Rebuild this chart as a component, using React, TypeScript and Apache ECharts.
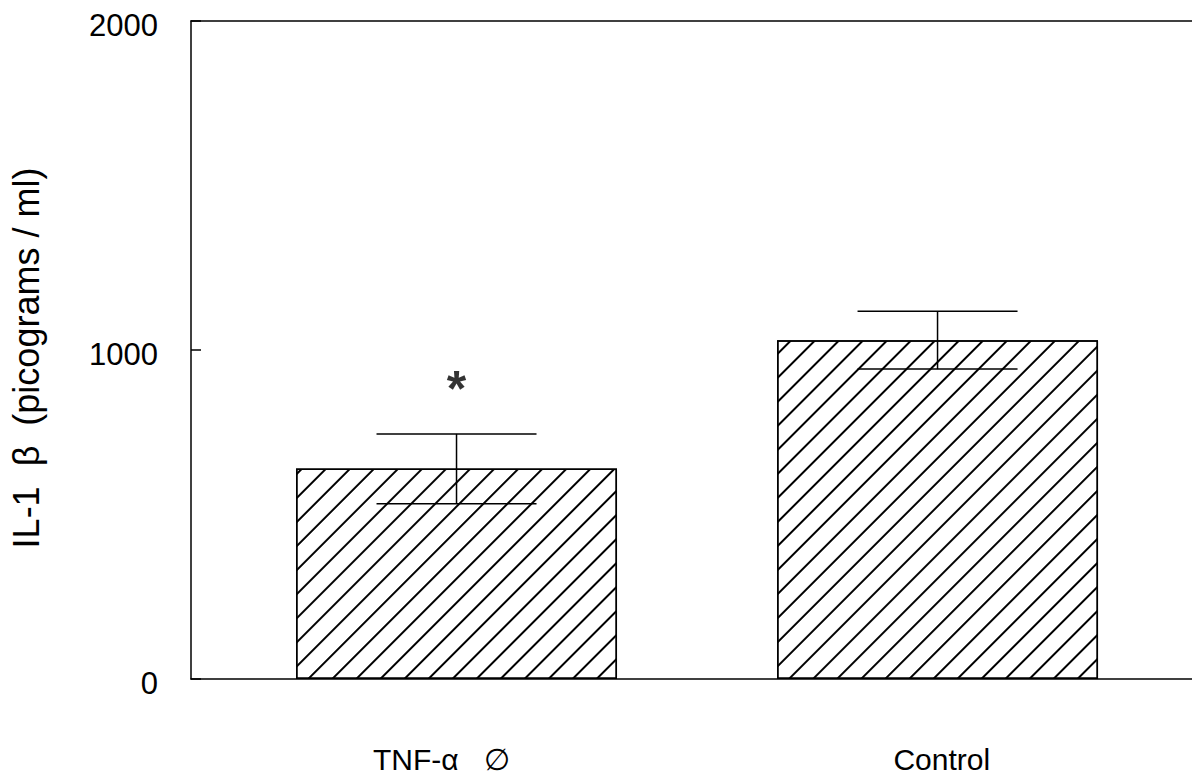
import React, { useEffect, useRef } from 'react';
import * as echarts from 'echarts';

const categories = ['TNF-α   ∅', 'Control'];
const barPositions = [1, 2];
const means = [640, 1030];
const errLow = [533, 942];
const errHigh = [745, 1118];
const yTickValues = [0, 1000, 2000];
const sigX = [1];
const sigY = [880];
const sigMark = ['*'];

const FONT = '"Liberation Sans", Arial, Helvetica, sans-serif';

export default function App() {
  const ref = useRef<HTMLDivElement>(null);
  useEffect(() => {
    document.body.style.margin = '0';
    if (!ref.current) return;
    const chart = echarts.init(ref.current, null, { renderer: 'svg' });
    const xMin = 0.448;
    const xMax = 2.529;
    chart.setOption({
      animation: false,
      backgroundColor: '#fff',
      grid: { left: 189, right: 0, top: 21, bottom: 99 },
      xAxis: [
        {
          type: 'category',
          data: categories,
          position: 'bottom',
          axisLine: { show: true, lineStyle: { color: '#000', width: 1.5 } },
          axisTick: { show: false },
          axisLabel: { color: '#000', fontSize: 30, fontFamily: FONT, margin: 65 },
          splitLine: { show: false },
        },
        {
          type: 'value',
          min: xMin,
          max: xMax,
          position: 'bottom',
          show: false,
        },
        {
          type: 'value',
          min: xMin,
          max: xMax,
          position: 'top',
          axisLine: { show: true, onZero: false, lineStyle: { color: '#000', width: 1.5 } },
          axisTick: { show: false },
          axisLabel: { show: false },
          splitLine: { show: false },
        },
      ],
      yAxis: {
        type: 'value',
        min: yTickValues[0],
        max: yTickValues[yTickValues.length - 1],
        interval: 1000,
        name: 'IL-1  β  (picograms / ml)',
        nameLocation: 'middle',
        nameGap: 147,
        nameTextStyle: { color: '#000', fontSize: 36, fontFamily: FONT, padding: [0, 16, 0, 0] },
        axisLine: { show: true, lineStyle: { color: '#000', width: 1.5 } },
        axisTick: { show: true, inside: true, length: 10, lineStyle: { color: '#000', width: 1.5 } },
        axisLabel: {
          color: '#000',
          fontSize: 31,
          fontFamily: FONT,
          margin: 33,
          verticalAlign: 'top',
          lineHeight: 31,
          padding: [-11, 0, 0, 0],
          formatter: (v: number) => String(v),
        },
        splitLine: { show: false },
      },
      series: [
        {
          type: 'bar',
          xAxisIndex: 1,
          data: barPositions.map((x, i) => [x, means[i]]),
          barWidth: 321,
          itemStyle: {
            color: '#fff',
            borderColor: '#000',
            borderWidth: 1.5,
            decal: {
              symbol: 'rect',
              dashArrayX: [1, 0],
              dashArrayY: [1.3, 14.8],
              rotation: -Math.PI / 4,
              color: '#000',
              backgroundColor: '#fff',
            },
          },
        },
        {
          type: 'custom',
          xAxisIndex: 1,
          encode: { x: 0, y: [1, 2] },
          data: barPositions.map((x, i) => [x, errLow[i], errHigh[i]]),
          renderItem: (params: any, api: any) => {
            const x = api.value(0);
            const pLo = api.coord([x, api.value(1)]);
            const pHi = api.coord([x, api.value(2)]);
            const hw = 80;
            const st = { stroke: '#000', lineWidth: 1.5 };
            return {
              type: 'group',
              children: [
                { type: 'line', shape: { x1: pLo[0], y1: pLo[1], x2: pHi[0], y2: pHi[1] }, style: st },
                { type: 'line', shape: { x1: pLo[0] - hw, y1: pLo[1], x2: pLo[0] + hw, y2: pLo[1] }, style: st },
                { type: 'line', shape: { x1: pHi[0] - hw, y1: pHi[1], x2: pHi[0] + hw, y2: pHi[1] }, style: st },
              ],
            };
          },
          z: 5,
        },
        {
          type: 'scatter',
          xAxisIndex: 1,
          data: sigX.map((x, i) => ({ value: [x, sigY[i]], name: sigMark[i] })),
          symbolSize: 0,
          label: {
            show: true,
            position: 'inside',
            formatter: (p: any) => p.name,
            color: '#000',
            fontSize: 50,
            fontWeight: 'bold',
            fontFamily: FONT,
          },
          z: 6,
        },
      ],
    });
    return () => chart.dispose();
  }, []);
  return <div ref={ref} style={{ width: 1192, height: 778 }} />;
}
